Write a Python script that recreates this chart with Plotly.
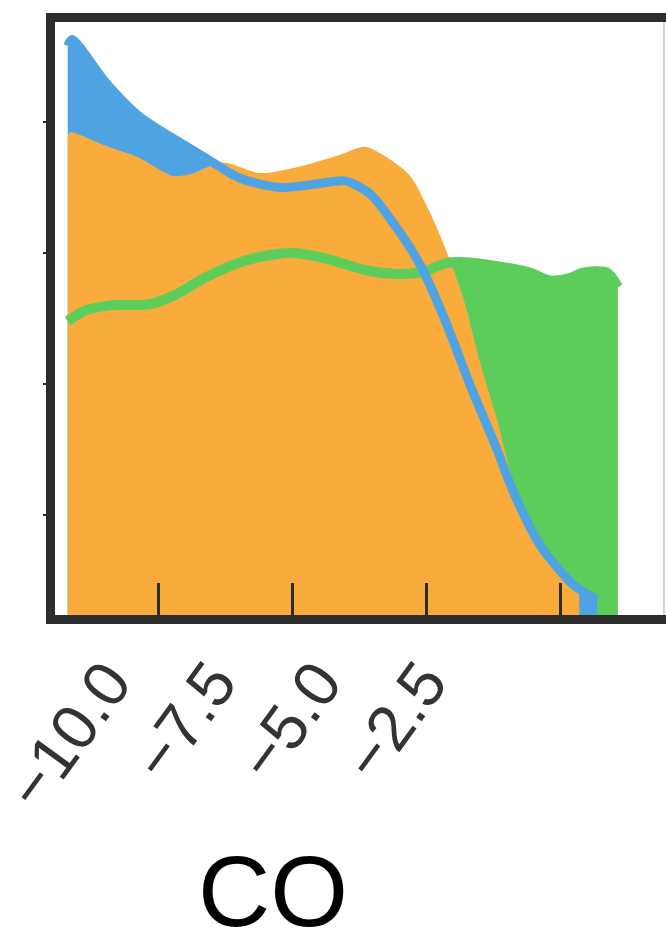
import plotly.graph_objects as go

# log10 CO abundance (x) and kernel-density values (y) for three samples
blue_x = [-11.68, -11.60, -10.99, -10.37, -9.74, -9.13, -8.47, -7.73, -6.99, -6.52,
          -6.05, -5.59, -5.12, -4.66, -4.19, -3.69, -3.45, -3.19, -2.89, -2.57,
          -2.28, -2.03, -1.83]
blue_y = [0.458, 0.463, 0.431, 0.405, 0.388, 0.373, 0.357, 0.350, 0.353, 0.355,
          0.345, 0.321, 0.291, 0.249, 0.199, 0.150, 0.124, 0.100, 0.077, 0.060,
          0.047, 0.040, 0.035]

orange_x = [-11.68, -11.64, -10.99, -10.37, -9.74, -9.40, -8.81, -8.10, -7.36, -6.61,
            -6.15, -5.78, -5.31, -4.94, -4.62, -4.32, -4.01, -3.69, -3.45, -3.21,
            -2.89, -2.57, -2.28, -2.16]
orange_y = [0.389, 0.392, 0.382, 0.373, 0.359, 0.360, 0.369, 0.361, 0.366, 0.375,
            0.381, 0.374, 0.359, 0.331, 0.300, 0.266, 0.217, 0.173, 0.134, 0.102,
            0.077, 0.059, 0.048, 0.044]

green_x = [-11.68, -11.36, -10.89, -10.15, -9.68, -9.13, -8.47, -7.82, -7.45, -6.80,
           -6.15, -5.50, -5.03, -4.66, -4.32, -3.69, -3.08, -2.70, -2.33, -2.09,
           -1.64, -1.44]
green_y = [0.248, 0.256, 0.260, 0.261, 0.268, 0.281, 0.293, 0.299, 0.300, 0.295,
           0.287, 0.284, 0.286, 0.292, 0.293, 0.290, 0.285, 0.279, 0.281, 0.285,
           0.285, 0.274]

x_tick_vals = [-10.0, -7.5, -5.0, -2.5]
x_tick_text = ["\u221210.0", "\u22127.5", "\u22125.0", "\u22122.5"]
y_tick_vals = [0.1, 0.2, 0.3, 0.4]

BLUE = "#50A3E2"
ORANGE = "#F9AC3C"
GREEN = "#5CCD5B"
AXIS = "#2d2d2d"
FONT = "Liberation Sans, Arial, Helvetica, sans-serif"

fig = go.Figure()

# filled densities (drawn back to front)
for xs, ys, col in [(green_x, green_y, GREEN), (blue_x, blue_y, BLUE), (orange_x, orange_y, ORANGE)]:
    fig.add_trace(go.Scatter(
        x=xs, y=ys, mode="none", fill="tozeroy", fillcolor=col,
        line=dict(shape="spline", smoothing=0.8, width=0),
        hoverinfo="skip", showlegend=False))

# outline curves on top of the fills
for xs, ys, col, w in [(green_x, green_y, GREEN, 10), (blue_x, blue_y, BLUE, 9)]:
    fig.add_trace(go.Scatter(
        x=xs, y=ys, mode="lines",
        line=dict(color=col, width=w, shape="spline", smoothing=0.8),
        hoverinfo="skip", showlegend=False))

# carrier for the labelled abundance axis
fig.add_trace(go.Scatter(x=[], y=[], xaxis="x2", yaxis="y", mode="none",
                         showlegend=False, hoverinfo="skip"))

fig.update_layout(
    width=666, height=952,
    margin=dict(l=55, r=0, t=22, b=337, autoexpand=False),
    paper_bgcolor="white",
    plot_bgcolor="rgba(0,0,0,0)",
    showlegend=False,
    xaxis=dict(
        range=[-11.917, -0.545], automargin=False,
        showgrid=False, zeroline=False,
        showline=True, linewidth=9, linecolor=AXIS, mirror=True,
        ticks="inside", ticklen=32, tickwidth=3, tickcolor=AXIS,
        tickvals=x_tick_vals, showticklabels=False,
    ),
    xaxis2=dict(
        domain=[0, 0.7136], anchor="y", automargin=False,
        range=[-11.26, -0.904],
        showgrid=False, zeroline=False, showline=False,
        ticks="", tickvals=x_tick_vals, ticktext=x_tick_text,
        tickangle=-54, ticklabelstandoff=16, ticklabeloverflow="allow",
        tickfont=dict(family=FONT, size=64, color="#333333"),
        title=dict(text="CO", standoff=34,
                   font=dict(family=FONT, size=100, color="#000000")),
    ),
    yaxis=dict(
        range=[0.02366, 0.4763], automargin=False,
        showgrid=False, zeroline=False,
        showline=True, linewidth=9, linecolor=AXIS,
        ticks="outside", ticklen=3, tickwidth=2, tickcolor=AXIS,
        tickvals=y_tick_vals, showticklabels=False,
    ),
    shapes=[dict(type="line", xref="paper", yref="paper",
                 x0=0.9967, x1=0.9967, y0=0, y1=1,
                 line=dict(color="#c8c8c8", width=1.5))],
)

fig.write_html("out.html")
